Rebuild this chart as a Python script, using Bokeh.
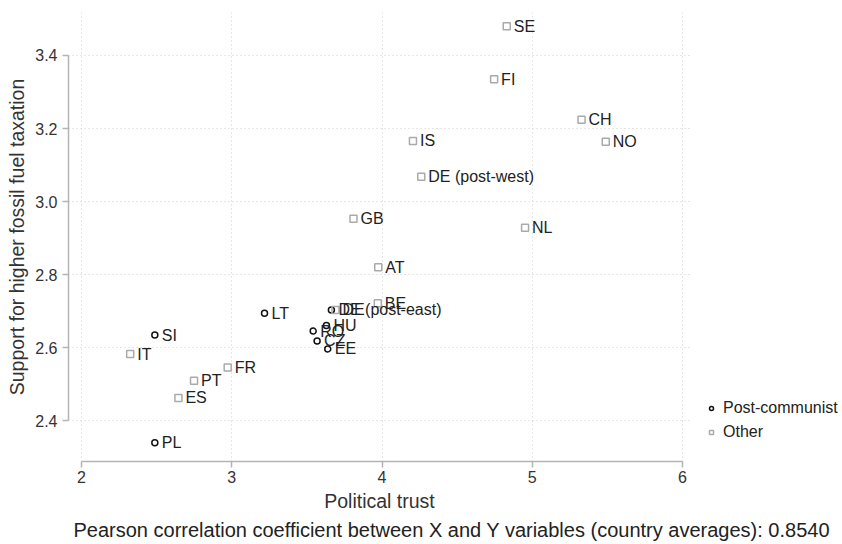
from bokeh.plotting import figure
from bokeh.models import ColumnDataSource, Legend, LegendItem, Title, FixedTicker, Range1d
from bokeh.embed import file_html
from bokeh.resources import INLINE

# ---- data (country averages) ----
pc_names = ["LT", "DE (post-east)", "HU", "RO", "CZ", "EE", "SI", "PL"]
pc_trust = [3.218, 3.663, 3.630, 3.542, 3.568, 3.639, 2.488, 2.488]
pc_support = [2.694, 2.703, 2.660, 2.645, 2.618, 2.596, 2.634, 2.339]

ot_names = ["SE", "FI", "CH", "NO", "IS", "DE (post-west)", "NL", "GB", "AT",
            "BE", "DE", "IT", "FR", "PT", "ES"]
ot_trust = [4.830, 4.746, 5.328, 5.489, 4.206, 4.261, 4.952, 3.810, 3.975,
            3.972, 3.690, 2.324, 2.973, 2.749, 2.645]
ot_support = [3.480, 3.335, 3.224, 3.164, 3.166, 3.068, 2.928, 2.953, 2.820,
              2.721, 2.703, 2.582, 2.545, 2.509, 2.462]

x_ticks = [2, 3, 4, 5, 6]
y_ticks = [2.4, 2.6, 2.8, 3.0, 3.2, 3.4]
x_title = "Political trust"
y_title = "Support for higher fossil fuel taxation"
note = "Pearson correlation coefficient between X and Y variables (country averages): 0.8540"
legend_labels = ["Post-communist", "Other"]

FONT = "Liberation Sans"
AXIS_GREY = "#b4b4b4"

pc = ColumnDataSource(dict(x=pc_trust, y=pc_support, t=pc_names))
ot = ColumnDataSource(dict(x=ot_trust, y=ot_support, t=ot_names))

p = figure(frame_width=622, frame_height=449,
           x_range=Range1d(1.9135, 6.053), y_range=Range1d(2.2877, 3.5178),
           output_backend="svg", toolbar_location=None,
           min_border_left=68, min_border_top=12, min_border_right=152,
           min_border_bottom=0, background_fill_color="white",
           border_fill_color="white")
p.outline_line_color = None

# axes
for ax in (p.xaxis[0], p.yaxis[0]):
    ax.axis_line_color = AXIS_GREY
    ax.axis_line_width = 1.5
    ax.major_tick_line_color = AXIS_GREY
    ax.major_tick_line_width = 1.5
    ax.major_tick_out = 6
    ax.major_tick_in = 0
    ax.minor_tick_line_color = None
    ax.major_label_text_font = FONT
    ax.major_label_text_font_size = "16px"
    ax.major_label_text_color = "#333333"
    ax.axis_label_text_font = FONT
    ax.axis_label_text_font_size = "19.5px"
    ax.axis_label_text_font_style = "normal"
    ax.axis_label_text_color = "#333333"

p.xaxis[0].ticker = FixedTicker(ticks=x_ticks)
p.yaxis[0].ticker = FixedTicker(ticks=y_ticks)
p.xaxis[0].bounds = (x_ticks[0], x_ticks[-1])
p.yaxis[0].bounds = (y_ticks[0], y_ticks[-1])
p.xaxis[0].major_label_overrides = {t: str(t) for t in x_ticks}
p.yaxis[0].major_label_overrides = {t: f"{t:.1f}" for t in y_ticks}
p.xaxis[0].axis_label = x_title
p.yaxis[0].axis_label = y_title
p.xaxis[0].major_label_standoff = 3
p.yaxis[0].major_label_standoff = 5
p.xaxis[0].axis_label_standoff = 4
p.yaxis[0].axis_label_standoff = 4

for g in (p.xgrid[0], p.ygrid[0]):
    g.grid_line_color = "#cfcfcf"
    g.grid_line_dash = "1 3"
    g.grid_line_width = 1
p.xgrid[0].ticker = FixedTicker(ticks=x_ticks)
p.ygrid[0].ticker = FixedTicker(ticks=y_ticks)

# markers
r_pc = p.scatter("x", "y", source=pc, marker="circle", size=6,
                 fill_color=None, line_color="#111111", line_width=1.5)
r_ot = p.scatter("x", "y", source=ot, marker="square", size=7,
                 fill_color=None, line_color="#aaaaaa", line_width=1.5)

# labels
for src in (pc, ot):
    p.text("x", "y", text="t", source=src, x_offset=7, text_baseline="middle",
           text_align="left", text_font_size="16px", text_color="#222222",
           text_font={"value": FONT})

legend = Legend(items=[LegendItem(label=legend_labels[0], renderers=[r_pc]),
                       LegendItem(label=legend_labels[1], renderers=[r_ot])],
                location=(16, 19), orientation="vertical",
                border_line_color=None, background_fill_alpha=0,
                glyph_width=10, glyph_height=10, label_standoff=7,
                label_height=20, spacing=4, padding=0, margin=0,
                label_text_font=FONT, label_text_font_size="16px",
                label_text_color="#222222")
p.add_layout(legend, "right")

p.add_layout(Title(text=note, align="left", offset=5, text_font=FONT,
                   text_font_size="20px", text_font_style="normal",
                   text_color="#222222", standoff=5), "below")

html = file_html(p, INLINE)
open("out.html", "w").write(html)
